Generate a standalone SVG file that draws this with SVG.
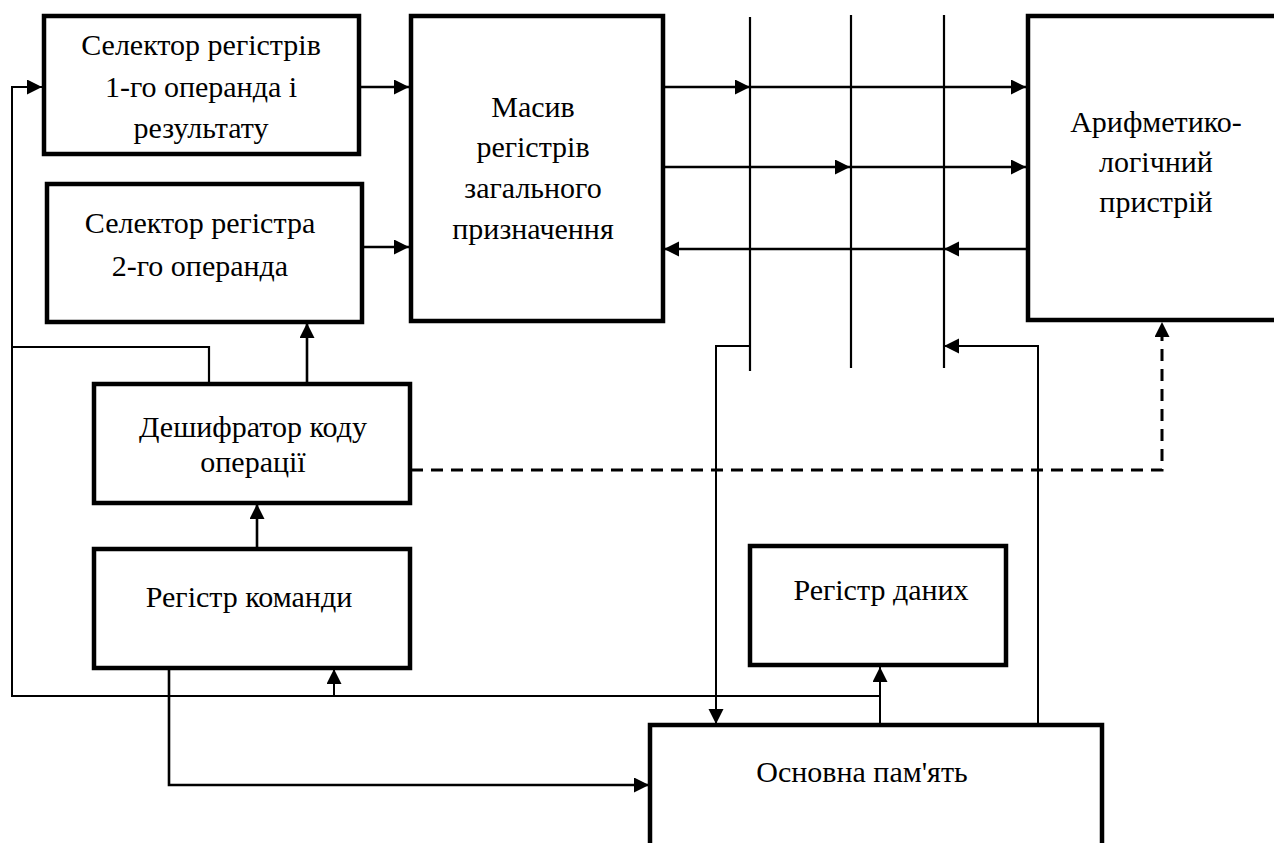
<svg xmlns="http://www.w3.org/2000/svg" width="1274" height="843" viewBox="0 0 1274 843">
<style>
.box{fill:#fff;stroke:#000;stroke-width:4.5}
.t{font-family:"Liberation Serif","Times New Roman","DejaVu Serif",serif;font-size:30px;fill:#000;text-anchor:middle}
.c{fill:none;stroke:#000;stroke-width:2.2}
.ca{fill:none;stroke:#000;stroke-width:2.6;marker-end:url(#ah)}
.cl{fill:none;stroke:#000;stroke-width:2;marker-end:url(#ah)}
.d{fill:none;stroke:#000;stroke-width:3;stroke-dasharray:12 8;marker-end:url(#ah)}
</style>
<defs>
<marker id="ah" markerUnits="userSpaceOnUse" markerWidth="16" markerHeight="16" refX="15" refY="7.5" orient="auto">
<path d="M0,0 L15,7.5 L0,15 z" fill="#000"/>
</marker>
</defs>
<rect width="1274" height="843" fill="#fff"/>
<g id="connectors">
<path class="ca" d="M360,87 H409"/>
<path class="ca" d="M363,247 H409"/>
<path class="c" d="M750,17 V371"/>
<path class="c" d="M851,15 V368"/>
<path class="c" d="M944,15 V368"/>
<path class="ca" d="M664,87 H750"/>
<path class="ca" d="M750,87 H1026"/>
<path class="ca" d="M664,167 H850"/>
<path class="ca" d="M850,167 H1026"/>
<path class="ca" d="M1026,249 H944"/>
<path class="ca" d="M944,249 H664"/>
<path class="cl" d="M750,346 H716 V724"/>
<path class="cl" d="M1038,724 V346 H944"/>
<path class="d" d="M411,470 H1162 V322"/>
<path class="cl" d="M880,725 V667"/>
<path class="cl" d="M880,696 H12 V87 H42"/>
<path class="cl" d="M334,696 V669"/>
<path class="c" d="M12,347 H209 V383"/>
<path class="ca" d="M307,383 V323"/>
<path class="ca" d="M257,548 V504"/>
<path class="ca" d="M169,669 V785 H649"/>
</g>
<g id="sel1">
<rect class="box" x="44" y="16" width="315" height="138"/>
<text class="t" x="201" y="55">Селектор регістрів</text>
<text class="t" x="201" y="97">1-го операнда і</text>
<text class="t" x="201" y="138">результату</text>
</g>
<g id="sel2">
<rect class="box" x="47" y="184" width="315" height="138"/>
<text class="t" x="200" y="233">Селектор регістра</text>
<text class="t" x="200" y="276">2-го операнда</text>
</g>
<g id="rgp">
<rect class="box" x="411" y="16" width="252" height="305"/>
<text class="t" x="533" y="117">Масив</text>
<text class="t" x="533" y="157">регістрів</text>
<text class="t" x="533" y="198">загального</text>
<text class="t" x="533" y="239">призначення</text>
</g>
<g id="alu">
<rect class="box" x="1028" y="16" width="260" height="304"/>
<text class="t" x="1156" y="132">Арифметико-</text>
<text class="t" x="1156" y="172">логічний</text>
<text class="t" x="1156" y="212">пристрій</text>
</g>
<g id="decoder">
<rect class="box" x="94" y="384" width="316" height="119"/>
<text class="t" x="253" y="437">Дешифратор коду</text>
<text class="t" x="253" y="472">операції</text>
</g>
<g id="cmdreg">
<rect class="box" x="94" y="549" width="316" height="119"/>
<text class="t" x="249" y="607">Регістр команди</text>
</g>
<g id="datareg">
<rect class="box" x="750" y="546" width="256" height="119"/>
<text class="t" x="881" y="600">Регістр даних</text>
</g>
<g id="mem">
<rect class="box" x="650" y="725" width="452" height="130"/>
<text class="t" x="862" y="782">Основна пам'ять</text>
</g>
</svg>
